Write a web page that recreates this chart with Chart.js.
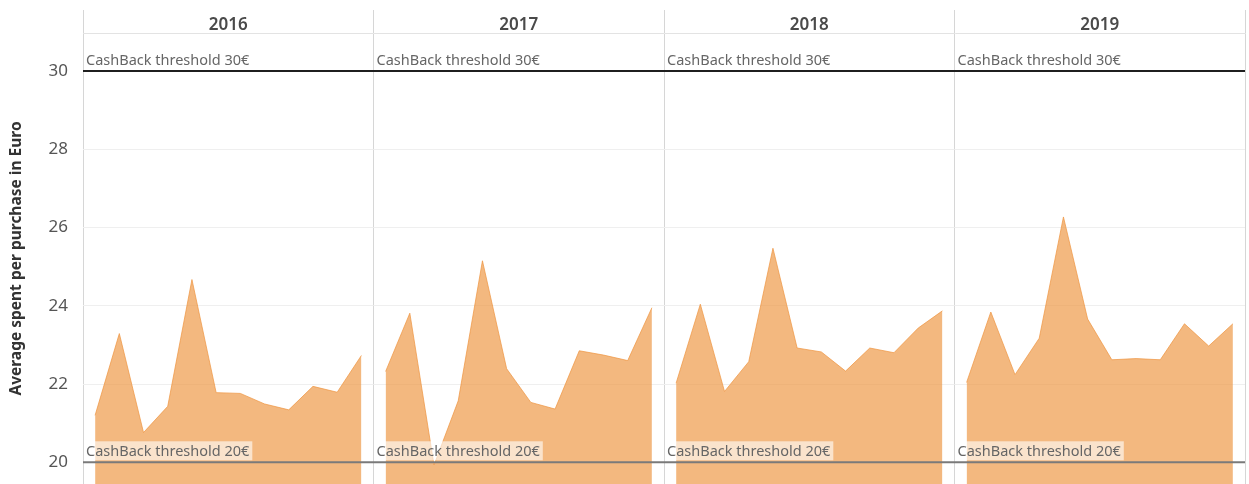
<!DOCTYPE html>
<html>
<head>
<meta charset="utf-8">
<script src="https://cdn.jsdelivr.net/npm/chart.js@4.4.1/dist/chart.umd.min.js"></script>
<style>
  html, body { margin: 0; padding: 0; background: #fff; }
  #wrap { position: relative; width: 1249px; height: 484px; }
</style>
</head>
<body>
<div id="wrap"><canvas id="chart"></canvas></div>
<script>
// ===============================
// DATA
// ===============================

const years = ["2016", "2017", "2018", "2019"];
const months = ["Jan", "Feb", "Mar", "Apr", "May", "Jun", "Jul", "Aug", "Sep", "Oct", "Nov", "Dec"];

const avg2016 = [21.20, 23.29, 20.76, 21.43, 24.67, 21.78, 21.76, 21.49, 21.34, 21.94, 21.79, 22.73];
const avg2017 = [22.32, 23.81, 19.93, 21.57, 25.15, 22.39, 21.53, 21.36, 22.85, 22.74, 22.60, 23.95];
const avg2018 = [22.02, 24.04, 21.81, 22.57, 25.47, 22.92, 22.82, 22.33, 22.92, 22.80, 23.43, 23.87];
const avg2019 = [22.04, 23.84, 22.24, 23.17, 26.27, 23.66, 22.62, 22.65, 22.62, 23.54, 22.97, 23.54];

const yTicks = [20, 22, 24, 26, 28, 30];

const thresholdValues = [30, 20];
const thresholdLabels = ["CashBack threshold 30€", "CashBack threshold 20€"];


// ===============================
// SETUP
// ===============================

const FONT = '"Noto Sans", "Open Sans", sans-serif';
const seriesByYear = [avg2016, avg2017, avg2018, avg2019];
const monthLabels = years.flatMap(y => months.map(m => `${m} ${y}`));

const datasets = seriesByYear.map((values, i) => ({
  label: years[i],
  data: values.map((v, m) => ({ x: `${months[m]} ${years[i]}`, y: v })),
  xAxisID: "x",
  yAxisID: "y",
  backgroundColor: "rgba(238,150,66,0.68)",
  borderColor: "rgba(238,150,66,0.72)",
  borderWidth: 1,
  pointRadius: 0,
  tension: 0,
  fill: "start"
}));

// reference lines + labels for each panel
const thresholdPlugin = {
  id: "thresholds",
  afterDatasetsDraw(chart) {
    const { ctx, chartArea, scales } = chart;
    const yScale = scales.y;
    const panels = scales.years;
    const half = (panels.getPixelForValue(1) - panels.getPixelForValue(0)) / 2;

    thresholdValues.forEach((val, k) => {
      const py = yScale.getPixelForValue(val);
      ctx.save();
      ctx.strokeStyle = k === 0 ? "#1f1f1f" : "#7a7a7a";
      ctx.lineWidth = 2;
      ctx.beginPath();
      ctx.moveTo(chartArea.left, py);
      ctx.lineTo(chartArea.right, py);
      ctx.stroke();

      ctx.font = `14.5px ${FONT}`;
      ctx.textBaseline = "alphabetic";
      ctx.textAlign = "left";
      years.forEach((yr, i) => {
        const left = panels.getPixelForValue(i) - half;
        const text = thresholdLabels[k];
        if (k === 1) {
          const w = ctx.measureText(text).width;
          ctx.fillStyle = "rgba(255,255,255,0.6)";
          ctx.fillRect(left + 1, py - 21, w + 5, 19);
        }
        ctx.fillStyle = "#666";
        ctx.fillText(text, left + 3, py - 6);
      });
      ctx.restore();
    });
  }
};


// ===============================
// CHART
// ===============================

new Chart(document.getElementById("chart"), {
  type: "line",
  data: { labels: monthLabels, datasets },
  plugins: [thresholdPlugin],
  options: {
    responsive: true,
    maintainAspectRatio: false,
    animation: false,
    layout: { padding: { top: 10, right: 4, bottom: 0, left: 0 } },
    plugins: {
      legend: { display: false },
      tooltip: { enabled: false }
    },
    scales: {
      x: {
        type: "category",
        offset: true,
        display: false,
        grid: { display: false }
      },
      years: {
        type: "category",
        labels: years,
        position: "top",
        offset: true,
        afterFit: s => { s.height = 23; },
        grid: {
          offset: true,
          color: "#d6d6d6",
          lineWidth: 1,
          tickLength: 23
        },
        border: { display: true, color: "#e3e3e3" },
        ticks: {
          color: "#4a4a4a",
          padding: -25,
          font: { family: FONT, size: 17, weight: 600 }
        }
      },
      y: {
        min: 19.445,
        max: 30.971,
        afterFit: s => {
          s.width = 83;
          s.paddingTop = 0;
          s.paddingBottom = 0;
        },
        afterBuildTicks: s => { s.ticks = yTicks.map(v => ({ value: v })); },
        grid: {
          color: "#efefef",
          drawTicks: false
        },
        border: { display: false },
        ticks: {
          color: "#555",
          padding: 15,
          font: { family: FONT, size: 17 }
        },
        title: {
          display: true,
          text: "Average spent per purchase in Euro",
          color: "#333",
          padding: { top: 7, bottom: 0 },
          font: { family: FONT, size: 15.5, weight: "bold" }
        }
      }
    }
  }
});
</script>
</body>
</html>
